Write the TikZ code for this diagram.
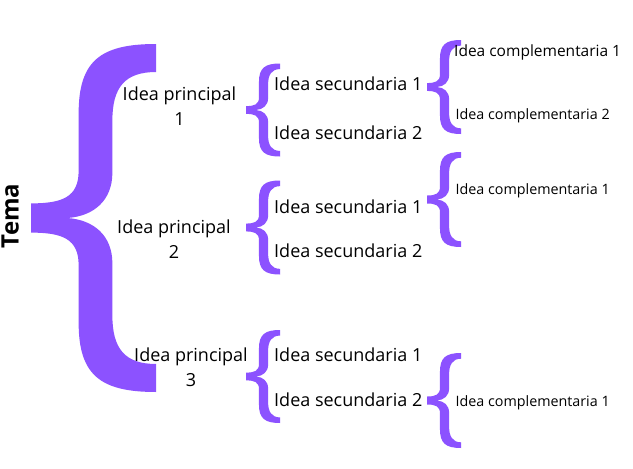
\documentclass[tikz,border=0pt]{standalone}
\usepackage{fontspec}
\setmainfont{Open Sans}
\definecolor{brc}{HTML}{8C52FF}
\newcommand\bracefill[1]{%
 \fill[brc] (1,-1) .. controls (0.55,-1) and (0.381,-0.9) .. (0.381,-0.6)
 -- (0.381,-0.27) .. controls (0.381,-0.12) and (0.25,-0.084) .. (0,-0.084)
 -- (0,0.084) .. controls (0.25,0.084) and (0.381,0.12) .. (0.381,0.27)
 -- (0.381,0.6) .. controls (0.381,0.9) and (0.55,1) .. (1,1)
 -- (1,#1) .. controls (0.75,#1) and (0.651,0.75) .. (0.651,0.56)
 -- (0.651,0.26) .. controls (0.651,0.1) and (0.5,0.01) .. (0.29,0)
 .. controls (0.5,-0.01) and (0.651,-0.1) .. (0.651,-0.26)
 -- (0.651,-0.56) .. controls (0.651,-0.75) and (0.75,-#1) .. (1,-#1) -- cycle;}
\tikzset{
 prin/.style={font=\fontsize{18}{25}\selectfont, align=center, inner sep=0pt},
 sec/.style={font=\fontsize{18}{22}\selectfont, inner sep=0pt, anchor=base west},
 comp/.style={font=\fontsize{14.3}{17}\selectfont, inner sep=0pt, anchor=base west},
 compbig/.style={comp, font=\fontsize{15.5}{18}\selectfont},
 temastyle/.style={font=\bfseries\fontsize{24}{24}\selectfont, rotate=90, anchor=base, inner sep=0pt},
}
\begin{document}
\begin{tikzpicture}[x=1pt,y=-1pt]
\fill[white] (0,0) rectangle (633,469);
\useasboundingbox (0,0) rectangle (633,469);
% big brace
\begin{scope}[shift={(31,218)},xscale=125,yscale=174]\bracefill{0.839}\end{scope}
% secondary braces
\begin{scope}[shift={(246,110)},xscale=34,yscale=46.5]\bracefill{0.88}\end{scope}
\begin{scope}[shift={(246,227.5)},xscale=34,yscale=47]\bracefill{0.88}\end{scope}
\begin{scope}[shift={(246,376.5)},xscale=34,yscale=46.5]\bracefill{0.88}\end{scope}
% complementary braces
\begin{scope}[shift={(427,87)},xscale=34,yscale=47]\bracefill{0.88}\end{scope}
\begin{scope}[shift={(427,199.5)},xscale=34,yscale=47.5]\bracefill{0.88}\end{scope}
\begin{scope}[shift={(427,400.5)},xscale=34,yscale=47.5]\bracefill{0.88}\end{scope}
% texts
\node[temastyle] (tema) at (18.6,216) {Tema};
\node[prin] (p1) at (179.5,105.7) {Idea principal\\1};
\node[prin] (p2) at (174,239) {Idea principal\\2};
\node[prin] (p3) at (191,367.4) {Idea principal\\3};
\node[sec] (s11) at (274,90.5) {Idea secundaria 1};
\node[sec] (s12) at (274,139) {Idea secundaria 2};
\node[sec] (s21) at (274,213) {Idea secundaria 1};
\node[sec] (s22) at (274,257.5) {Idea secundaria 2};
\node[sec] (s31) at (274,361) {Idea secundaria 1};
\node[sec] (s32) at (274,406.5) {Idea secundaria 2};
\node[compbig] (c11) at (454,56.5) {Idea complementaria 1};
\node[comp] (c12) at (455.5,119) {Idea complementaria 2};
\node[comp] (c21) at (455.5,194) {Idea complementaria 1};
\node[comp] (c31) at (455.5,406.5) {Idea complementaria 1};
\end{tikzpicture}
\end{document}
